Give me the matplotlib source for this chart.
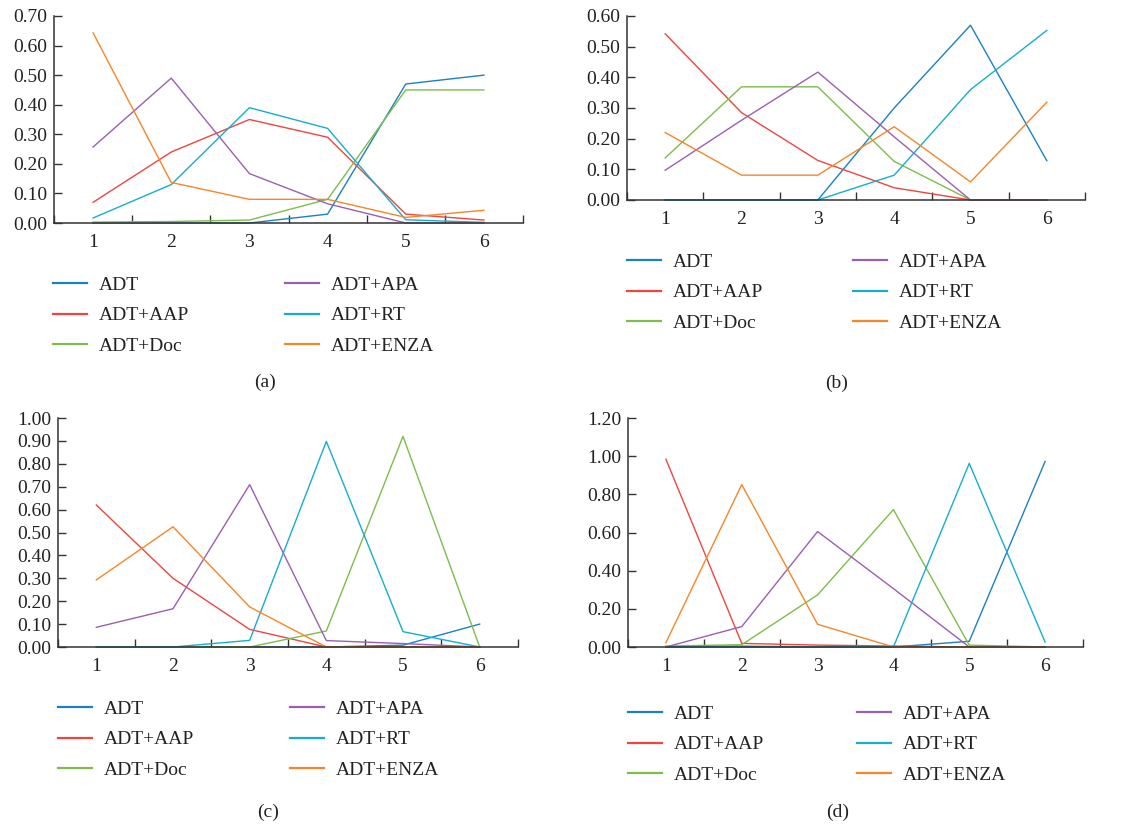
import numpy as np
import matplotlib
matplotlib.use('Agg')
import matplotlib.pyplot as plt
from matplotlib.lines import Line2D

plt.rcParams['font.family'] = ['Liberation Serif', 'DejaVu Serif']
plt.rcParams['font.size'] = 14

x = [1, 2, 3, 4, 5, 6]
names = ['ADT', 'ADT+AAP', 'ADT+Doc', 'ADT+APA', 'ADT+RT', 'ADT+ENZA']
colors = ['#1b80c4', '#ee4540', '#7ebc4c', '#9b5fb0', '#17adcc', '#f5862a']

# panel (a)
a_adt = [0.0, 0.0, 0.0, 0.03, 0.47, 0.50]
a_aap = [0.07, 0.24, 0.35, 0.29, 0.03, 0.01]
a_doc = [0.003, 0.005, 0.01, 0.08, 0.45, 0.45]
a_apa = [0.257, 0.49, 0.167, 0.065, 0.0, 0.0]
a_rt = [0.017, 0.13, 0.39, 0.32, 0.011, 0.002]
a_enza = [0.643, 0.137, 0.08, 0.08, 0.019, 0.043]

# panel (b)
b_adt = [0.0, 0.0, 0.0, 0.30, 0.57, 0.128]
b_aap = [0.542, 0.285, 0.129, 0.04, 0.0, 0.0]
b_doc = [0.137, 0.369, 0.369, 0.126, 0.0, 0.0]
b_apa = [0.097, 0.26, 0.417, 0.206, 0.0, 0.0]
b_rt = [0.0, 0.0, 0.0, 0.081, 0.36, 0.553]
b_enza = [0.22, 0.081, 0.081, 0.239, 0.059, 0.319]

# panel (c)
c_adt = [0.0, 0.0, 0.0, 0.0, 0.008, 0.10]
c_aap = [0.62, 0.30, 0.077, 0.0, 0.0, 0.0]
c_doc = [0.0, 0.0, 0.0, 0.07, 0.92, 0.0]
c_apa = [0.086, 0.167, 0.709, 0.028, 0.015, 0.0]
c_rt = [0.0, 0.0, 0.029, 0.898, 0.067, 0.0]
c_enza = [0.293, 0.525, 0.175, 0.0, 0.0, 0.0]

# panel (d)
d_adt = [0.0, 0.0, 0.0, 0.0, 0.03, 0.972]
d_aap = [0.984, 0.019, 0.01, 0.005, 0.0, 0.0]
d_doc = [0.005, 0.012, 0.273, 0.72, 0.01, 0.0]
d_apa = [0.0, 0.107, 0.605, 0.306, 0.0, 0.0]
d_rt = [0.0, 0.005, 0.0, 0.0, 0.962, 0.026]
d_enza = [0.023, 0.851, 0.119, 0.0, 0.0, 0.0]

panels = [
    ('(a)', [a_adt, a_aap, a_doc, a_apa, a_rt, a_enza], 0.70, 0.10),
    ('(b)', [b_adt, b_aap, b_doc, b_apa, b_rt, b_enza], 0.60, 0.10),
    ('(c)', [c_adt, c_aap, c_doc, c_apa, c_rt, c_enza], 1.00, 0.10),
    ('(d)', [d_adt, d_aap, d_doc, d_apa, d_rt, d_enza], 1.20, 0.20),
]

W, H = 1122, 825
# axes boxes in pixels: left, top, right, bottom
boxes = [(54, 16, 523, 223), (627, 16, 1085, 200),
         (58, 418, 518, 647), (628, 418, 1083, 647)]
# legend: col1 handle x, col2 handle x, first row y
leg_pos = [(53, 285, 283), (627, 853, 260), (58, 290, 707), (628, 857, 712)]
cap_pos = [(265, 382), (837, 383), (268, 812), (838, 812)]

fig = plt.figure(figsize=(W / 100, H / 100), dpi=100)
axis_col = '#333333'

for i, (cap, series, ymax, step) in enumerate(panels):
    l, t, r, b = boxes[i]
    ax = fig.add_axes([l / W, 1 - b / H, (r - l) / W, (b - t) / H])
    for s, c, n in zip(series, colors, names):
        ax.plot(x, s, color=c, lw=1.0, label=n, clip_on=False)
    ax.set_xlim(0.5, 6.5)
    ax.set_ylim(0, ymax)
    ax.set_yticks(np.round(np.arange(0, ymax + step / 2, step), 2))
    ax.yaxis.set_major_formatter(matplotlib.ticker.FormatStrFormatter('%.2f'))
    ax.set_xticks(np.arange(0.5, 7.0, 1.0))
    ax.set_xticklabels([])
    ax.set_xticks(x, minor=True)
    ax.set_xticklabels([str(v) for v in x], minor=True)
    ax.tick_params(axis='x', which='major', direction='in', length=6,
                   width=1.0, color=axis_col)
    ax.tick_params(axis='x', which='minor', length=0, pad=8, labelsize=14,
                   labelcolor='#222222')
    ax.tick_params(axis='y', direction='in', length=6, width=1.0,
                   color=axis_col, labelsize=14, labelcolor='#222222', pad=5)
    for sp in ['top', 'right']:
        ax.spines[sp].set_visible(False)
    for sp in ['left', 'bottom']:
        ax.spines[sp].set_color(axis_col)
        ax.spines[sp].set_linewidth(1.1)

    # legend drawn as two columns
    x1, x2, y0 = leg_pos[i]
    handles = [Line2D([], [], color=c, lw=1.6) for c in colors]
    for k, xc in enumerate([x1, x2]):
        leg = fig.legend(handles[3 * k:3 * k + 3], names[3 * k:3 * k + 3],
                         loc='upper left',
                         bbox_to_anchor=(xc / W, 1 - (y0 - 7) / H),
                         frameon=False, borderpad=0, borderaxespad=0,
                         handlelength=1.75, handletextpad=0.62,
                         labelspacing=0.68, fontsize=14)
        for txt in leg.get_texts():
            txt.set_color('#222222')

    cx, cy = cap_pos[i]
    fig.text(cx / W, 1 - cy / H, cap, ha='center', va='center', fontsize=14,
             color='#222222')

fig.savefig('out.png', dpi=100)
